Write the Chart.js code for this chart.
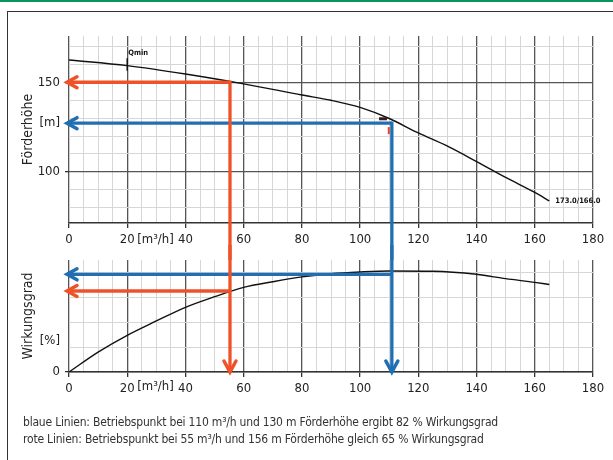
<!DOCTYPE html>
<html>
<head>
<meta charset="utf-8">
<script src="https://cdn.jsdelivr.net/npm/chart.js@4"></script>
<style>
  body { margin: 0; width: 613px; height: 460px; overflow: hidden; background: #fff; position: relative;
         font-family: 'Liberation Sans Narrow', 'DejaVu Sans Condensed', sans-serif; }
  .green { position: absolute; left: 0; top: 0; width: 613px; height: 2px; background: #08965c; }
  .frame { position: absolute; left: 7px; top: 11px; width: 700px; height: 500px; border: 1.5px solid #333; }
  #headChart { position: absolute; left: 0; top: 0; }
  #effChart { position: absolute; left: 0; top: 245px; }
  .caption { position: absolute; left: 23px; font-size: 12px; letter-spacing: -0.2px; line-height: 17px; color: #333; white-space: nowrap; }
</style>
</head>
<body>
<div class="green"></div>
<div class="frame"></div>
<canvas id="headChart" width="613" height="260"></canvas>
<canvas id="effChart" width="613" height="160"></canvas>
<div class="caption" style="top:414px">blaue Linien: Betriebspunkt bei 110 m³/h und 130 m Förderhöhe ergibt 82 % Wirkungsgrad</div>
<div class="caption" style="top:431px">rote Linien: Betriebspunkt bei 55 m³/h und 156 m Förderhöhe gleich 65 % Wirkungsgrad</div>
<script>
const FONT = "'Liberation Sans Narrow', 'DejaVu Sans Condensed', sans-serif"

// Förderhöhe (head) curve
const flowHead = [0, 20, 40, 60, 80, 90, 100, 110, 120, 130, 140, 150, 160, 165]
const head = [162.6, 159.4, 154.7, 149.2, 143, 140, 136, 129.8, 121.7, 114.3, 105.7, 96.8, 88.4, 83.7]

// Wirkungsgrad (efficiency) curve
const flowEff = [0, 10, 20, 30, 40, 50, 60, 70, 80, 90, 100, 110, 125, 140, 150, 160, 165]
const efficiency = [0, 16, 29.5, 41, 52, 60.5, 68, 72.5, 76.4, 79, 80.4, 81.2, 81, 78.5, 75, 72, 70.3]

// operating points: blue, red
const opFlow = [110.9, 55.3]
const opHead = [127.2, 150.1]
const opEff = [78.5, 65.1]
const opColors = ['#1f6fb2', '#ef5228']

// ticks
const flowLabels = [0, 20, 40, 60, 80, 100, 120, 140, 160, 180]
const headGrid = [80, 90, 100, 110, 120, 130, 140, 150, 160, 170]
const headLabels = [100, 150]
const effGrid = [0, 10, 20, 30, 40, 50, 60, 70, 80, 90]
const effLabels = [0, 50]

function xy(xs, ys) {
	return xs.map((x, i) => ({ x: x, y: ys[i] }))
}

function chevron(ctx, x, y, dir, color) {
	ctx.save()
	ctx.strokeStyle = color
	ctx.lineWidth = 3.5
	ctx.lineCap = 'round'
	ctx.beginPath()
	if (dir === 'left') {
		ctx.moveTo(x + 10, y - 5.5)
		ctx.lineTo(x, y)
		ctx.lineTo(x + 10, y + 5.5)
	} else {
		ctx.moveTo(x - 6, y - 11)
		ctx.lineTo(x, y)
		ctx.lineTo(x + 6, y - 11)
	}
	ctx.stroke()
	ctx.restore()
}

function line(ctx, x1, y1, x2, y2, color) {
	ctx.save()
	ctx.strokeStyle = color
	ctx.lineWidth = 3.3
	ctx.beginPath()
	ctx.moveTo(x1, y1)
	ctx.lineTo(x2, y2)
	ctx.stroke()
	ctx.restore()
}

function xScale(fit) {
	return {
		type: 'linear',
		min: 0,
		max: 180,
		afterFit: fit,
		border: { display: true, color: '#333', width: 1.5 },
		grid: {
			color: c => (c.tick && c.tick.value % 20 === 0 ? '#555' : '#d6d6d6'),
			lineWidth: c => (c.tick && c.tick.value % 20 === 0 ? 1.3 : 1),
			tickColor: c => (c.tick && c.tick.value % 20 === 0 ? '#333' : 'transparent'),
			tickLength: 5,
		},
		ticks: {
			stepSize: 5,
			autoSkip: false,
			maxRotation: 0,
			padding: 4,
			color: '#222',
			font: { family: FONT, size: 13 },
			callback: v => (flowLabels.includes(v) ? String(v) : ''),
		},
	}
}

function yScale(min, max, grid, labels, title) {
	return {
		min: min,
		max: max,
		afterBuildTicks: s => {
			s.ticks = grid.map(v => ({ value: v }))
		},
		afterFit: s => {
			s.width = 69
		},
		border: { display: false },
		grid: {
			color: c => (c.tick && labels.includes(c.tick.value) ? '#555' : '#d6d6d6'),
			lineWidth: c => (c.tick && labels.includes(c.tick.value) ? 1.3 : 1),
			tickColor: c => (c.tick && labels.includes(c.tick.value) ? '#333' : 'transparent'),
			tickLength: 4,
		},
		ticks: {
			padding: 5,
			color: '#222',
			font: { family: FONT, size: 13 },
			callback: v => (labels.includes(v) ? String(v) : ''),
		},
		title: {
			display: true,
			text: title,
			color: '#222',
			font: { family: FONT, size: 14 },
			padding: { top: 20, bottom: 0 },
		},
	}
}

const headPlugin = {
	id: 'headArrows',
	afterDatasetsDraw(chart) {
		const { ctx, chartArea } = chart
		const xs = chart.scales.x
		const ys = chart.scales.y

		// unit labels
		ctx.save()
		ctx.fillStyle = '#222'
		ctx.font = '13px ' + FONT
		ctx.textAlign = 'right'
		ctx.textBaseline = 'middle'
		ctx.fillText('[m]', chartArea.left - 9, ys.getPixelForValue(127.4))
		ctx.textAlign = 'left'
		ctx.fillText('[m³/h]', xs.getPixelForValue(20) + 10, chartArea.bottom + 17)

		// curve annotations
		ctx.fillStyle = '#111'
		ctx.font = 'bold 7.5px ' + FONT
		ctx.fillText('Qmin', xs.getPixelForValue(20) + 1, ys.getPixelForValue(166.5))
		ctx.fillText('173.0/166.0', xs.getPixelForValue(165) + 6, ys.getPixelForValue(head[head.length - 1]))
		ctx.strokeStyle = '#111'
		ctx.lineWidth = 1.5
		ctx.beginPath()
		ctx.moveTo(xs.getPixelForValue(20), ys.getPixelForValue(163.5))
		ctx.lineTo(xs.getPixelForValue(20), ys.getPixelForValue(156.5))
		ctx.stroke()

		// operating point marker
		ctx.fillStyle = '#3a1c1c'
		ctx.fillRect(xs.getPixelForValue(106.5), ys.getPixelForValue(130.5), 8, 3)
		ctx.fillStyle = '#e0442a'
		ctx.fillRect(xs.getPixelForValue(109.5), ys.getPixelForValue(125), 2, 7)
		ctx.restore()

		opFlow.forEach((flow, i) => {
			const px = xs.getPixelForValue(flow)
			const py = ys.getPixelForValue(opHead[i])
			line(ctx, px, py, chartArea.left - 2, py, opColors[i])
			chevron(ctx, chartArea.left - 2, py, 'left', opColors[i])
			line(ctx, px, py - 1.6, px, chart.height, opColors[i])
		})
	},
}

const effPlugin = {
	id: 'effArrows',
	afterDatasetsDraw(chart) {
		const { ctx, chartArea } = chart
		const xs = chart.scales.x
		const ys = chart.scales.y

		ctx.save()
		ctx.fillStyle = '#222'
		ctx.font = '13px ' + FONT
		ctx.textAlign = 'right'
		ctx.textBaseline = 'middle'
		ctx.fillText('[%]', chartArea.left - 9, ys.getPixelForValue(25.5))
		ctx.textAlign = 'left'
		ctx.fillText('[m³/h]', xs.getPixelForValue(20) + 10, chartArea.bottom + 15)
		ctx.restore()

		opFlow.forEach((flow, i) => {
			const px = xs.getPixelForValue(flow)
			const py = ys.getPixelForValue(opEff[i])
			line(ctx, px, py, chartArea.left - 2, py, opColors[i])
			chevron(ctx, chartArea.left - 2, py, 'left', opColors[i])
			line(ctx, px, 0, px, ys.getPixelForValue(0) - 1, opColors[i])
			chevron(ctx, px, ys.getPixelForValue(0), 'down', opColors[i])
		})
	},
}

const curveStyle = {
	borderColor: '#111',
	borderWidth: 1.4,
	pointRadius: 0,
	cubicInterpolationMode: 'monotone',
	fill: false,
}

new Chart('headChart', {
	type: 'line',
	data: { datasets: [{ data: xy(flowHead, head), ...curveStyle }] },
	options: {
		responsive: false,
		animation: false,
		layout: { padding: { left: 0, right: 20, top: 36, bottom: 0 } },
		plugins: { legend: { display: false }, tooltip: { enabled: false } },
		scales: {
			x: xScale(s => {
				s.height = 37
			}),
			y: yScale(71.3, 176, headGrid, headLabels, 'Förderhöhe'),
		},
	},
	plugins: [headPlugin],
})

new Chart('effChart', {
	type: 'line',
	data: { datasets: [{ data: xy(flowEff, efficiency), ...curveStyle }] },
	options: {
		responsive: false,
		animation: false,
		layout: { padding: { left: 0, right: 20, top: 15, bottom: 0 } },
		plugins: { legend: { display: false }, tooltip: { enabled: false } },
		scales: {
			x: xScale(s => {
				s.height = 33
			}),
			y: yScale(0, 90, effGrid, effLabels, 'Wirkungsgrad'),
		},
	},
	plugins: [effPlugin],
})
</script>
</body>
</html>
